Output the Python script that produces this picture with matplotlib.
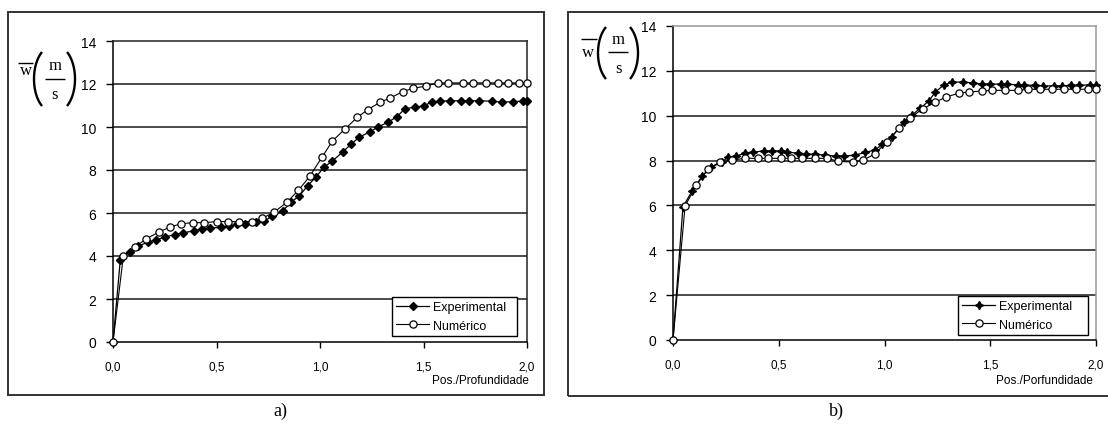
import numpy as np
import matplotlib
matplotlib.use("Agg")
import matplotlib.pyplot as plt
from matplotlib.patches import Rectangle
from matplotlib.lines import Line2D
from matplotlib.ticker import FuncFormatter

plt.rcParams["font.family"] = ["Liberation Sans", "DejaVu Sans"]

# ---- panel a) ----
a_exp_x = [0.00, 0.035, 0.08, 0.12, 0.17, 0.21, 0.25, 0.30, 0.34, 0.39, 0.43, 0.47,
           0.52, 0.56, 0.60, 0.64, 0.69, 0.73, 0.77, 0.82, 0.86, 0.90, 0.94, 0.98,
           1.02, 1.06, 1.11, 1.15, 1.19, 1.24, 1.28, 1.33, 1.37, 1.41, 1.46, 1.50,
           1.54, 1.58, 1.63, 1.68, 1.72, 1.77, 1.83, 1.88, 1.93, 1.98, 2.00]
a_exp_y = [0.0, 3.8, 4.2, 4.45, 4.65, 4.75, 4.88, 5.0, 5.08, 5.17, 5.25, 5.3,
           5.33, 5.4, 5.47, 5.5, 5.56, 5.63, 5.85, 6.1, 6.5, 6.8, 7.26, 7.67,
           8.14, 8.42, 8.84, 9.2, 9.53, 9.77, 10.0, 10.23, 10.47, 10.84, 10.93, 10.98,
           11.16, 11.2, 11.22, 11.22, 11.22, 11.22, 11.2, 11.15, 11.18, 11.2, 11.2]

a_num_x = [0.00, 0.05, 0.105, 0.16, 0.22, 0.275, 0.33, 0.385, 0.44, 0.50, 0.555,
           0.61, 0.67, 0.72, 0.78, 0.84, 0.895, 0.95, 1.01, 1.06, 1.12, 1.18,
           1.23, 1.29, 1.34, 1.40, 1.45, 1.51, 1.57, 1.62, 1.69, 1.74, 1.80,
           1.86, 1.91, 1.96, 2.00]
a_num_y = [0.0, 4.0, 4.4, 4.8, 5.1, 5.35, 5.5, 5.55, 5.55, 5.6, 5.6,
           5.6, 5.6, 5.75, 6.05, 6.5, 7.05, 7.7, 8.6, 9.35, 9.9, 10.45,
           10.8, 11.15, 11.35, 11.65, 11.8, 11.9, 12.05, 12.05, 12.05, 12.05, 12.05,
           12.05, 12.05, 12.05, 12.05]

# ---- panel b) ----
b_exp_x = [0.00, 0.047, 0.09, 0.137, 0.18, 0.23, 0.26, 0.30, 0.34, 0.38, 0.43,
           0.47, 0.51, 0.54, 0.59, 0.63, 0.67, 0.72, 0.77, 0.81, 0.86, 0.91,
           0.955, 0.99, 1.035, 1.09, 1.13, 1.17, 1.21, 1.24, 1.28, 1.32, 1.37,
           1.42, 1.46, 1.50, 1.55, 1.58, 1.63, 1.66, 1.71, 1.75, 1.80, 1.84,
           1.88, 1.92, 1.97, 2.00]
b_exp_y = [0.0, 5.93, 6.64, 7.3, 7.7, 7.93, 8.15, 8.2, 8.33, 8.38, 8.43,
           8.43, 8.43, 8.38, 8.33, 8.28, 8.28, 8.24, 8.2, 8.2, 8.24, 8.37,
           8.47, 8.72, 9.05, 9.72, 10.03, 10.34, 10.66, 11.05, 11.37, 11.5, 11.5,
           11.46, 11.41, 11.41, 11.41, 11.41, 11.37, 11.37, 11.35, 11.33, 11.33, 11.33,
           11.35, 11.35, 11.38, 11.35]

b_num_x = [0.00, 0.057, 0.11, 0.165, 0.22, 0.28, 0.34, 0.40, 0.45, 0.51, 0.56,
           0.61, 0.67, 0.73, 0.78, 0.85, 0.90, 0.955, 1.01, 1.07, 1.12, 1.18,
           1.24, 1.29, 1.35, 1.40, 1.46, 1.51, 1.57, 1.63, 1.68, 1.735, 1.79,
           1.85, 1.905, 1.96, 2.00]
b_num_y = [0.0, 5.97, 6.9, 7.62, 7.93, 8.02, 8.1, 8.1, 8.1, 8.1, 8.1,
           8.1, 8.1, 8.1, 7.97, 7.93, 8.02, 8.3, 8.83, 9.45, 9.9, 10.3,
           10.6, 10.83, 11.0, 11.06, 11.1, 11.13, 11.13, 11.13, 11.18, 11.18, 11.18,
           11.18, 11.18, 11.18, 11.18]

x_ticks = [0.0, 0.5, 1.0, 1.5, 2.0]
y_ticks = [0, 2, 4, 6, 8, 10, 12, 14]
series_names = ["Experimental", "Numérico"]
captions = ["a)", "b)"]
x_titles = ["Pos./Profundidade", "Pos./Porfundidade"]

W, H = 1108, 427
fig = plt.figure(figsize=(W / 100, H / 100), dpi=100)
fig.patch.set_facecolor("white")


def fx(px):
    return px / W


def fy(py):
    return 1 - py / H


def fig_line(xs, ys, lw):
    fig.add_artist(Line2D([fx(v) for v in xs], [fy(v) for v in ys],
                          transform=fig.transFigure, color="black", lw=lw,
                          solid_capstyle="butt"))


def paren(x_outer, y_mid, half_h, width, left=True):
    # a parenthesis drawn as an elliptic arc, in pixel coordinates
    span = np.deg2rad(56)
    phi = np.linspace(np.pi - span, np.pi + span, 40)
    a = width / (1 - np.cos(span))
    b = half_h / np.sin(span)
    xs = x_outer + a * (1 + np.cos(phi))
    ys = y_mid + b * np.sin(phi)
    if not left:
        xs = 2 * x_outer - xs
    fig_line(xs, ys, 1.7)


def ylabel(w_pos, over, lp, rp, m_pos, bar, s_pos, half_h):
    """Overlined w followed by (m/s) in tall parentheses; all in pixels."""
    fig.text(fx(w_pos[0]), fy(w_pos[1]), "w", ha="center", va="center",
             fontsize=12, family="Liberation Serif")
    fig_line([over[0], over[1]], [over[2], over[2]], 1.0)
    paren(lp[0], lp[1], half_h, 8, left=True)
    paren(rp[0], rp[1], half_h, 8, left=False)
    fig.text(fx(m_pos[0]), fy(m_pos[1]), "m", ha="center", va="center",
             fontsize=12, family="Liberation Serif")
    fig.text(fx(s_pos[0]), fy(s_pos[1]), "s", ha="center", va="center",
             fontsize=12, family="Liberation Serif")
    fig_line([bar[0], bar[1]], [bar[2], bar[2]], 1.0)


def panel(rect, exp_x, exp_y, num_x, num_y, exp_marker, exp_ms, right_col, top_col,
          xtitle, xtitle_pos, leg_box):
    l, t, r, b = rect
    ax = fig.add_axes([fx(l), fy(b), fx(r - l), fy(t) - fy(b)])
    ax.set_xlim(0, 2.0)
    ax.set_ylim(0, 14)
    for yv in y_ticks[1:-1]:
        ax.axhline(yv, color="#1a1a1a", lw=1.1, zorder=1)
    ax.spines["left"].set_color("black")
    ax.spines["bottom"].set_color("black")
    ax.spines["right"].set_color(right_col)
    ax.spines["top"].set_color(top_col)
    for s in ax.spines.values():
        s.set_linewidth(1.1)
    ax.set_xticks(x_ticks)
    ax.set_yticks(y_ticks)
    ax.xaxis.set_major_formatter(FuncFormatter(lambda v, p: f"{v:.1f}".replace(".", ",")))
    ax.tick_params(axis="y", direction="out", length=5, width=1, pad=7, labelsize=10)
    ax.tick_params(axis="x", direction="out", length=4, width=1, pad=9, labelsize=8.5)

    l1, = ax.plot(exp_x, exp_y, color="black", lw=0.9, marker=exp_marker,
                  ms=exp_ms, mfc="black", mec="black", clip_on=False, zorder=3,
                  label=series_names[0])
    l2, = ax.plot(num_x, num_y, color="black", lw=0.8, marker="o", ms=5.2,
                  mfc="white", mec="black", mew=0.9, clip_on=False, zorder=4,
                  label=series_names[1])

    leg = ax.legend(handles=[l1, l2], loc="lower left",
                    bbox_to_anchor=((leg_box[0] - l) / (r - l), (b - leg_box[3]) / (b - t),
                                    (leg_box[2] - leg_box[0]) / (r - l),
                                    (leg_box[3] - leg_box[1]) / (b - t)),
                    mode="expand", fancybox=False, framealpha=1, edgecolor="black",
                    fontsize=9, handlelength=2.6, borderpad=0.35, labelspacing=0.5,
                    handletextpad=0.3, borderaxespad=0)
    leg.get_frame().set_linewidth(1.0)

    fig.text(fx(xtitle_pos[0]), fy(xtitle_pos[1]), xtitle, ha="right", va="center",
             fontsize=8.5, family=["Liberation Sans Narrow", "Liberation Sans"])
    return ax


panel((113, 42, 527, 343), a_exp_x, a_exp_y, a_num_x, a_num_y, "D", 4.0,
      "#222222", "#222222", x_titles[0], (529, 381), (392, 288, 517, 337))
panel((673, 27, 1096, 341), b_exp_x, b_exp_y, b_num_x, b_num_y, (4, 1, 0), 5.8,
      "#999999", "#999999", x_titles[1], (1093, 381), (958, 286, 1088, 336))

ylabel(w_pos=(26, 71), over=(18, 33, 64), lp=(34, 80), rp=(75, 80),
       m_pos=(55, 66), bar=(45, 65, 80), s_pos=(55, 95), half_h=27)
ylabel(w_pos=(588, 53), over=(581, 597, 40), lp=(598, 54), rp=(638, 54),
       m_pos=(618, 40), bar=(608, 628, 53), s_pos=(618, 69), half_h=26)

# outer frames around each chart
fig.add_artist(Rectangle((fx(8), fy(396)), fx(544 - 8), fy(13) - fy(396),
                         transform=fig.transFigure, fill=False, lw=1.4, ec="#333333"))
fig.add_artist(Rectangle((fx(568), fy(397)), fx(1120 - 568), fy(13) - fy(397),
                         transform=fig.transFigure, fill=False, lw=1.4, ec="#333333"))

fig.text(fx(280), fy(411), captions[0], ha="center", va="center", fontsize=13,
         family="Liberation Serif")
fig.text(fx(836), fy(411), captions[1], ha="center", va="center", fontsize=13,
         family="Liberation Serif")

fig.savefig("out.png", dpi=100, facecolor="white")
